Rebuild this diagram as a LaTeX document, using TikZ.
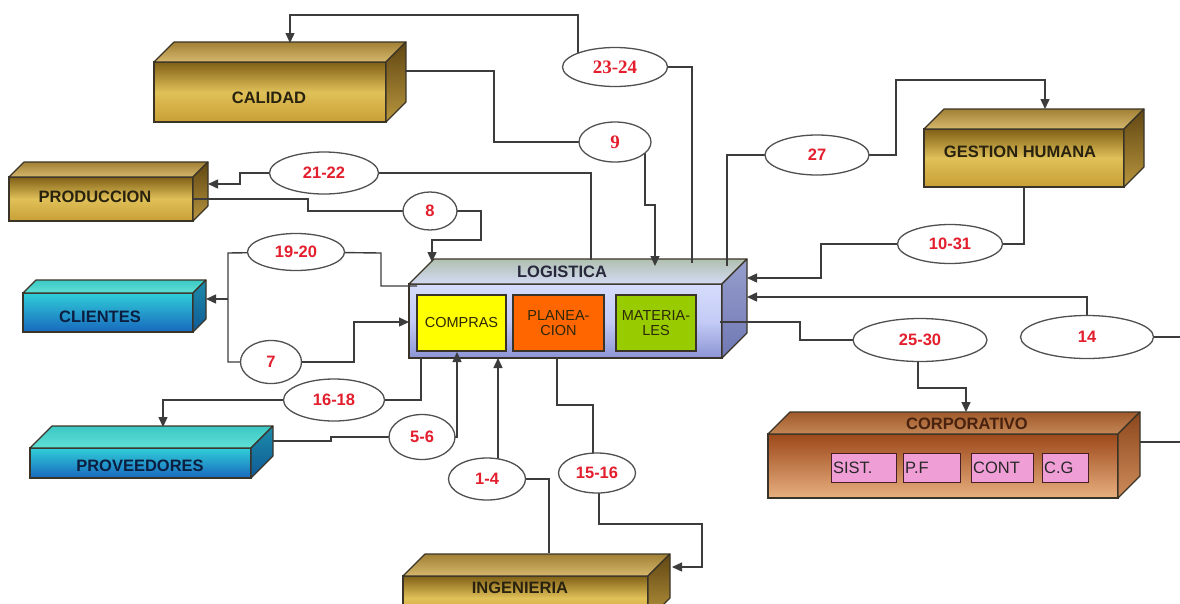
\documentclass[tikz,border=0pt]{standalone}
\usepackage{fontspec}
\setmainfont{Liberation Sans}
\newfontfamily\serifnum{Liberation Serif}
\usetikzlibrary{shapes.geometric,arrows.meta}
\pgfdeclarelayer{fg}
\pgfsetlayers{main,fg}
\definecolor{linec}{HTML}{3C3C3C}
\definecolor{edgec}{HTML}{3A3428}
\definecolor{ellc}{HTML}{505050}
\definecolor{numred}{HTML}{E31E2D}
\newcommand{\boxfaces}[4]{%
  \shade[#3,draw=edgec,line width=1.1pt,line join=round] (#1.north west) -- ([shift={(#2,-#2)}]#1.north west) -- ([shift={(#2,-#2)}]#1.north east) -- (#1.north east) -- cycle;
  \shade[#4,draw=edgec,line width=1.1pt,line join=round] (#1.north east) -- ([shift={(#2,-#2)}]#1.north east) -- ([shift={(#2,-#2)}]#1.south east) -- (#1.south east) -- cycle;
}
\begin{document}
\begin{tikzpicture}[x=1pt,y=-1pt,
  front/.style={rectangle,draw=edgec,line width=1.1pt,inner sep=0pt,outer sep=0pt,anchor=north west},
  goldF/.style={top color={rgb,255:red,128;green,96;blue,22},bottom color={rgb,255:red,200;green,160;blue,54},middle color={rgb,255:red,224;green,192;blue,88}},
  goldT/.style={top color={rgb,255:red,160;green,128;blue,52},bottom color={rgb,255:red,214;green,184;blue,110}},
  goldS/.style={top color={rgb,255:red,96;green,70;blue,18},bottom color={rgb,255:red,184;green,150;blue,62}},
  cyanF/.style={top color={rgb,255:red,48;green,206;blue,216},bottom color={rgb,255:red,24;green,104;blue,190}},
  cyanT/.style={top color={rgb,255:red,60;green,200;blue,196},bottom color={rgb,255:red,96;green,224;blue,214}},
  cyanS/.style={top color={rgb,255:red,28;green,140;blue,170},bottom color={rgb,255:red,16;green,90;blue,150}},
  logF/.style={top color={rgb,255:red,214;green,220;blue,252},bottom color={rgb,255:red,140;green,148;blue,212},middle color={rgb,255:red,196;green,204;blue,246}},
  logT/.style={top color={rgb,255:red,176;green,192;blue,176},bottom color={rgb,255:red,212;green,218;blue,244}},
  logS/.style={top color={rgb,255:red,150;green,158;blue,204},bottom color={rgb,255:red,112;green,120;blue,180}},
  corF/.style={top color={rgb,255:red,156;green,72;blue,26},bottom color={rgb,255:red,232;green,176;blue,128}},
  corT/.style={top color={rgb,255:red,160;green,90;blue,44},bottom color={rgb,255:red,196;green,134;blue,84}},
  corS/.style={top color={rgb,255:red,140;green,70;blue,28},bottom color={rgb,255:red,206;green,140;blue,90}},
  lab/.style={inner sep=0pt,font=\bfseries\fontsize{16.5}{18}\selectfont},
  sub/.style={rectangle,draw=edgec,line width=1.2pt,inner sep=0pt,minimum height=56,align=center,
    font=\fontsize{14.5}{15.5}\selectfont,text={rgb,255:red,44;green,40;blue,8}},
  pink/.style={rectangle,draw={rgb,255:red,70;green,30;blue,40},line width=1.2pt,fill={rgb,255:red,240;green,158;blue,214},
    inner xsep=1.5pt,inner ysep=0pt,minimum height=29,anchor=north west,align=left,
    font=\fontsize{16.5}{18}\selectfont,text={rgb,255:red,40;green,40;blue,40}},
  num/.style={ellipse,draw=ellc,line width=1.3pt,fill=white,inner sep=0pt,text=numred,
    font=\bfseries\fontsize{16.5}{18}\selectfont},
  conn/.style={draw=linec,line width=1.4pt},
  arr/.style={conn,-{Triangle[length=10pt,width=9pt]}}]
\useasboundingbox (0,0) rectangle (1180,603);
\clip (0,0) rectangle (1180,603);

% ---------- boxes ----------
\node[front,goldF,minimum width=232,minimum height=60] (cal) at (154,62) {};
\boxfaces{cal}{20}{goldT}{goldS}
\node[lab,text={rgb,255:red,40;green,34;blue,14}] (calt) at (269,98) {CALIDAD};

\node[front,goldF,minimum width=184,minimum height=44] (prod) at (9,177) {};
\boxfaces{prod}{15}{goldT}{goldS}
\node[lab,text={rgb,255:red,40;green,34;blue,14}] (prodt) at (95,197) {PRODUCCION};

\node[front,goldF,minimum width=200,minimum height=58] (gh) at (924,129) {};
\boxfaces{gh}{20}{goldT}{goldS}
\node[lab,text={rgb,255:red,40;green,34;blue,14}] (ght) at (1020,152) {GESTION HUMANA};

\node[front,cyanF,minimum width=170,minimum height=39] (cli) at (23,293) {};
\boxfaces{cli}{13}{cyanT}{cyanS}
\node[lab,text={rgb,255:red,12;green,30;blue,64}] (clit) at (100,317) {CLIENTES};

\node[front,cyanF,minimum width=221,minimum height=30] (prov) at (30,448) {};
\boxfaces{prov}{22}{cyanT}{cyanS}
\node[lab,text={rgb,255:red,12;green,30;blue,64}] (provt) at (140,466) {PROVEEDORES};

\node[front,goldF,minimum width=245,minimum height=44] (ing) at (403,576) {};
\boxfaces{ing}{22}{goldT}{goldS}
\node[lab,text={rgb,255:red,40;green,34;blue,14}] (ingt) at (520,588) {INGENIERIA};

\node[front,logF,minimum width=313,minimum height=74] (log) at (409,284) {};
\boxfaces{log}{25}{logT}{logS}
\node[lab,text={rgb,255:red,40;green,40;blue,60}] (logt) at (562,272) {LOGISTICA};
\node[sub,fill={rgb,255:red,255;green,255;blue,0},minimum width=89] (compras) at (461.5,323) {COMPRAS};
\node[sub,fill={rgb,255:red,255;green,102;blue,0},minimum width=91] (plan) at (558.5,323) {PLANEA-\\CION};
\node[sub,fill={rgb,255:red,153;green,204;blue,0},minimum width=80] (mat) at (656,323) {MATERIA-\\LES};

\node[front,corF,minimum width=350,minimum height=64] (corp) at (768,434) {};
\boxfaces{corp}{22}{corT}{corS}
\node[lab,text={rgb,255:red,72;green,34;blue,14}] (corpt) at (967,424) {CORPORATIVO};
\node[pink,text width=62pt] (sist) at (831,453) {SIST.};
\node[pink,text width=54pt] (pf) at (903,453) {P.F};
\node[pink,text width=59pt] (cont) at (971,453) {CONT};
\node[pink,text width=43pt] (cg) at (1042,453) {C.G};

% ---------- ellipses ----------
\begin{pgfonlayer}{fg}
\node[num,minimum width=105,minimum height=39,font=\serifnum\bfseries\fontsize{19}{20}\selectfont] (e2324) at (615,67) {23-24};
\node[num,minimum width=72,minimum height=40,font=\serifnum\bfseries\fontsize{19}{20}\selectfont] (e9) at (615,142) {9};
\node[num,minimum width=109,minimum height=42] (e2122) at (324,173) {21-22};
\node[num,minimum width=54,minimum height=38] (e8) at (430,211) {8};
\node[num,minimum width=97,minimum height=37] (e1920) at (296,252) {19-20};
\node[num,minimum width=104,minimum height=40] (e27) at (817,155) {27};
\node[num,minimum width=105,minimum height=39] (e1031) at (950,244) {10-31};
\node[num,minimum width=61,minimum height=43] (e7) at (271,362) {7};
\node[num,minimum width=101,minimum height=42] (e1618) at (334,400) {16-18};
\node[num,minimum width=66,minimum height=45] (e56) at (422,437) {5-6};
\node[num,minimum width=77,minimum height=42] (e1to4) at (487,479) {1-4};
\node[num,minimum width=77,minimum height=40] (e1516) at (597,473) {15-16};
\node[num,minimum width=134,minimum height=43] (e2530) at (920,340) {25-30};
\node[num,minimum width=133,minimum height=43] (e14) at (1087,337) {14};
\end{pgfonlayer}

% ---------- connectors ----------
% 23-24
\draw[conn] (e2324.center) -- (692,67) -- (692,263);
\draw[arr] (e2324.center -| 578,0) -- (578,15) -- (290,15) -- (290,43);
% 9
\draw[conn] (405,71) -- (494,71) -- (494,142) -- (e9.center);
\draw[arr] (e9.center -| 645,0) -- (645,205) -- (655,205) -- (655,266);
% 27
\draw[conn] (727,266) -- (727,155) -- (e27.center);
\draw[arr] (e27.center) -- (896,155) -- (896,80) -- (1045,80) -- (1045,109);
% 10-31
\draw[conn] (gh.south -| 1024,0) -- (e1031.center -| 1024,0) -- (e1031.center);
\draw[arr] (e1031.center) -- (821,244) -- (821,278) -- (747,278);
% 14
\draw[arr] (e14.center) -- (1087,297) -- (747,297);
\draw[conn] (e14.center) -- (1180,337);
% 25-30
\draw[conn] (720,322) -- (800,322) -- (800,340) -- (e2530.center);
\draw[arr] (e2530.center -| 918,0) -- (918,388) -- (966,388) -- (966,412);
% corporativo right
\draw[conn] (1140,442) -- (1180,442);
% 21-22
\draw[conn] (591,260) -- (591,173) -- (e2122.center);
\draw[arr] (e2122.center) -- (240,173) -- (240,184) -- (208,184);
% 8
\draw[conn] (193,199) -- (308,199) -- (308,211) -- (e8.center);
\draw[arr] (e8.center) -- (481,211) -- (481,240) -- (432,240) -- (432,262);
% 19-20 and 7
\draw[conn] (417,286) -- (381,286) -- (381,253) -- (e1920.center);
\draw[conn] (e1920.center) -- (228,253) -- (228,362) -- (e7.center);
\draw[arr] (228,299) -- (206,299);
\draw[arr] (e7.center) -- (354,362) -- (354,322) -- (log.west |- 0,322);
% 16-18
\draw[conn] (421,358) -- (421,400) -- (e1618.center);
\draw[arr] (e1618.center) -- (163,400) -- (163,427);
% 5-6
\draw[conn] (273,441) -- (331,441) -- (331,437) -- (e56.center);
\draw[arr] (e56.center) -- (457,437) -- (457,352);
% 1-4
\draw[conn] (e1to4.center) -- (549,479) -- (549,553);
\draw[arr] (e1to4.center -| 498,0) -- (498,358);
% 15-16
\draw[conn] (557,358) -- (557,405) -- (593,405) -- (593,473);
\draw[arr] (e1516.center -| 599,0) -- (599,524) -- (702,524) -- (702,567) -- (672,567);
\end{tikzpicture}
\end{document}
